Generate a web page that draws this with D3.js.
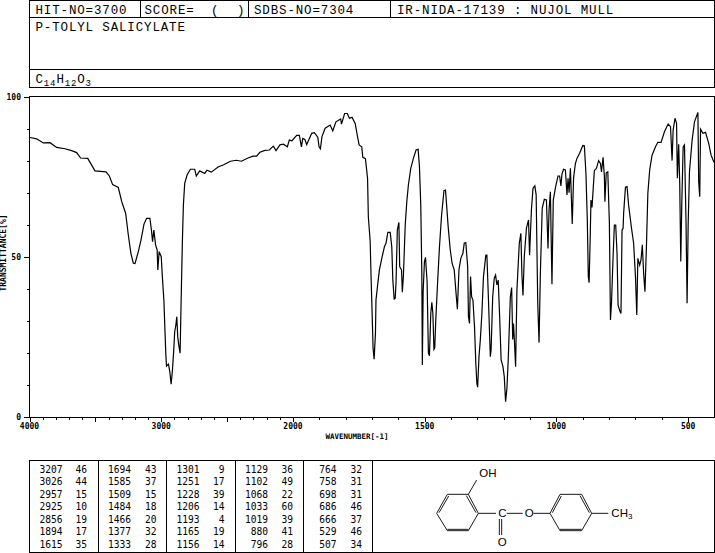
<!DOCTYPE html>
<html><head><meta charset="utf-8">
<script src="https://cdn.jsdelivr.net/npm/d3@7"></script>
<style>
html,body{margin:0;padding:0;background:#fff}
svg{display:block}
text{font-family:"DejaVu Sans Mono",monospace;fill:#000}
.head{font-family:"Liberation Mono",monospace;font-size:12.5px;letter-spacing:.85px}
.small{font-size:8px;font-weight:bold}
.tbl{font-size:9.6px}
.chem{font-family:"Liberation Sans",sans-serif;font-size:11.5px}
</style></head><body>
<script>
const wavenumbers=[3996,3946,3895,3844,3794,3731,3680,3642,3612,3558,3528,3503,3419,3394,3369,3326,3300,3270,3250,3230,3212,3199,3174,3154,3131,3111,3086,3073,3066,3056,3043,3031,3026,3016,3000,2990,2980,2973,2965,2960,2945,2935,2925,2915,2905,2898,2890,2882,2875,2865,2857,2850,2840,2832,2822,2804,2779,2746,2734,2708,2670,2653,2620,2569,2526,2475,2430,2392,2341,2303,2276,2251,2213,2180,2149,2129,2099,2073,2043,2028,2008,1986,1976,1968,1963,1955,1948,1929,1919,1906,1901,1896,1890,1878,1859,1849,1837,1819,1816,1804,1794,1786,1776,1764,1755,1749,1739,1735,1725,1717,1714,1707,1704,1700,1696,1692,1687,1685,1678,1672,1663,1653,1647,1640,1631,1625,1621,1616,1612,1609,1604,1598,1595,1588,1585,1581,1574,1568,1562,1553,1543,1533,1525,1520,1515,1511,1509,1506,1501,1497,1491,1486,1482,1477,1473,1469,1465,1462,1458,1451,1444,1436,1427,1421,1416,1411,1403,1396,1388,1380,1376,1370,1363,1355,1350,1344,1337,1334,1330,1326,1322,1317,1311,1306,1302,1299,1294,1289,1283,1277,1268,1264,1258,1251,1248,1242,1236,1231,1226,1221,1216,1210,1203,1198,1193,1188,1183,1175,1170,1166,1163,1159,1155,1150,1141,1135,1131,1127,1122,1114,1106,1102,1095,1089,1082,1077,1071,1066,1061,1054,1046,1038,1032,1028,1023,1017,1012,1003,994,988,983,979,973,966,960,956,952,947,940,935,928,922,912,900,894,888,883,879,876,872,869,865,856,848,840,833,829,823,818,816,811,805,799,795,791,785,780,775,770,766,760,755,751,747,745,738,732,726,715,707,700,695,691,684,679,674,669,664,658,653,646,637,624,615,603,590,576,567,561,557,550,544,541,536,532,528,524,519,514,508,504,500,495,485,476,463,460,456,453,444,434,422,413,402];
const transmittance=[87.2,86.8,85.5,85.6,84.1,83.7,83.1,82.5,80.8,80.7,78.6,76.8,76.5,75.2,72.5,71.6,67.2,63.5,56.8,51,48,47.9,51.6,55.2,60.2,62,62,57.8,54.7,58.3,53.7,52.1,45.9,51.6,50,42.7,36.5,28.2,19.3,15.9,16.5,14.1,10.2,14.7,20.9,26.6,28.4,31.3,25,21.9,19.9,34.4,54.2,66.1,72.9,75.5,77.3,77.3,75.2,76.8,76,77,76.4,78,78.7,79.8,80.1,79.8,80.8,81.4,81.4,82.6,83.2,83.3,84.5,83.1,84.9,85.1,84.3,86.4,86.2,87.9,87.9,84.3,86.9,86.6,85,88.5,88.7,87.3,84.3,83.7,87.5,90.1,91.1,89.3,92.1,93,91.4,94.7,94.7,93.2,93.5,91.6,87.5,84.9,84.3,81,80.6,74.5,62.5,54.7,44.8,33.4,21.4,18,26.1,36.5,41.7,45.9,49.5,53.1,54.2,57.6,57.6,53.1,42.7,36.8,37,41.7,58.3,60.7,46.9,45.9,38.9,43.8,59.9,67.2,72.4,77.6,80.7,83.3,83.5,78.1,66.1,44.8,16.2,39.1,48.5,49.8,42.2,19.9,19.1,32.3,35.8,32.3,21.1,21.5,30.3,42.2,53.1,63,70.6,70.8,65.1,59.4,52.1,47.9,45.9,37.5,33.6,45.9,49.5,51.1,54.2,54.4,46.9,31.3,29.2,43.8,37.5,36.5,28.2,16.7,10.5,9.3,18.8,24,32.3,43.8,50.5,50.5,36.5,18.8,20.9,37.5,43.3,44.3,41.2,42.7,32.3,17.8,15.7,12.6,4.8,8.9,17.8,37.5,40.4,24.2,29.2,23,15.7,39.6,54.2,57.3,44.3,37.9,50,58.9,61.5,50.5,64.6,71.3,72.1,69.3,35.5,23.2,44.8,65.1,67.9,67.7,52.6,64.6,70.3,41.4,67.7,71.9,75.2,75.2,72.1,75.8,77.3,77.1,69.3,74.5,70,77.6,60.2,74.5,79.1,80.7,82.3,84.7,84.6,76,62,43.8,41.9,55.2,67.7,65.4,76.9,77.6,80,79.1,76.5,81,75,67.2,76.2,76.5,60.4,30.3,35.5,50,59.9,59.9,51.1,34.9,33.2,32.3,58.3,58.9,63.5,71.7,71.9,66.1,58.9,54.2,43.8,31.8,49.5,47.4,49,53.7,44.8,39.1,54.2,69.8,77.1,81.7,84.3,85.7,85.7,89,91.4,90.6,80,89.5,93.2,91.6,74.5,85.1,72.9,48.5,67.2,84.3,84.9,60.4,35.5,59.9,76.5,86.4,92.1,95,73.4,68.7,89.8,88.5,88.8,85.4,81.7,79.5];
const xTickLabels=[4000,3000,2000,1500,1000,500];
const yTickLabels=[100,50,0];
const peakWavenumbers=[[3207,3026,2957,2925,2856,1894,1615],[1694,1585,1509,1484,1466,1377,1333],[1301,1251,1228,1206,1193,1165,1156],[1129,1102,1068,1033,1019,880,796],[764,758,698,686,666,529,507]];
const peakPercents=[[46,44,15,10,19,17,35],[43,37,15,18,20,32,28],[9,17,39,14,4,19,14],[36,49,22,60,39,41,28],[32,31,31,46,37,46,34]];

const svg=d3.select("body").append("svg").attr("width",715).attr("height",553);
const x=d3.scaleLinear().domain([4000,2000,400]).range([29.5,293,714.5]);
const y=d3.scaleLinear().domain([0,100]).range([417,96.5]);
const rule=(a,b,c,d)=>svg.append("line").attr("x1",a).attr("y1",b).attr("x2",c).attr("y2",d)
  .attr("stroke","#000").attr("stroke-width",1).attr("shape-rendering","crispEdges");
const box=(a,b,c,d)=>svg.append("rect").attr("x",a).attr("y",b).attr("width",c-a).attr("height",d-b)
  .attr("fill","none").attr("stroke","#000").attr("stroke-width",1).attr("shape-rendering","crispEdges");
const label=(t,a,b,cls,anchor)=>svg.append("text").attr("x",a).attr("y",b).attr("class",cls).attr("text-anchor",anchor||"start").text(t);

// header
box(29.5,0.5,714.5,87.5);
rule(29.5,17.5,714.5,17.5); rule(29.5,69.5,714.5,69.5);
[140.5,248.5,390.5].forEach(v=>rule(v,0.5,v,17.5));
label("HIT-NO=3700",35.5,13.5,"head");
label("SCORE=",144.5,13.5,"head");
label("(",211,13.5,"head"); label(")",237,13.5,"head");
label("SDBS-NO=7304",254,13.5,"head");
label("IR-NIDA-17139 : NUJOL MULL",397,13.5,"head");
label("P-TOLYL SALICYLATE",35.5,30.5,"head");
const f=svg.append("text").attr("x",35.5).attr("y",83).attr("class","head");
[["C",0],["14",3],["H",-3],["12",3],["O",-3],["3",3]].forEach(([t,dy],i)=>f.append("tspan").attr("dy",dy).attr("font-size",i%2?"9px":null).text(t));

// axes
box(29.5,96.5,714.5,417);
d3.range(0,101,10).forEach(v=>{const p=Math.round(y(v))+.5;rule(v%50?27:24,p,29.5,p);});
d3.range(400,4001,100).forEach(v=>{const p=Math.round(x(v))+.5;rule(p,417,p,417+(xTickLabels.includes(v)||v==2500||v==3500?5:3));});
yTickLabels.forEach(v=>label(v,21,y(v)+3,"small","end"));
xTickLabels.forEach(v=>label(v,x(v),428.5,"small","middle"));
label("WAVENUMBER[-1]",357,439,"small","middle").style("font-size","7.5px");
svg.append("text").attr("transform","translate(6,253) rotate(-90)").attr("class","small").attr("text-anchor","middle").text("TRANSMITTANCE[%]");

// spectrum
const line=d3.line().x(d=>x(d[0])).y(d=>y(d[1]));
svg.append("path").datum(d3.zip(wavenumbers,transmittance)).attr("d",line)
  .attr("fill","none").attr("stroke","#000").attr("stroke-width",1.2).attr("stroke-linejoin","miter");

// peak table
box(29.5,460.5,372.5,552.5); box(372.5,460.5,714.5,552.5);
[98.5,166.5,235.5,303.5].forEach(v=>rule(v,460.5,v,552.5));
const rowY=d3.scaleLinear().domain([0,6]).range([473,547.5]);
const wnRight=[62.5,131,199.5,268,336.5], pcRight=[87,156.5,224.5,293,362];
peakWavenumbers.forEach((col,c)=>col.forEach((v,r)=>{
  label(v,wnRight[c],rowY(r),"tbl","end");
  label(peakPercents[c][r],pcRight[c],rowY(r),"tbl","end");
}));

// structure
const bonds=[[200,340,232,283],[232,283,295,283],[295,283,325,340],[325,340,295,392],[295,392,232,392],[232,392,200,340],
[207,338,236,288],[289,287,318,338],[232,388,295,388],[295,283,320,240],[325,340,378,340],[410,340,458,340],[490,340,540,340],
[540,340,570,283],[570,283,635,283],[635,283,665,340],[665,340,635,392],[635,392,570,392],[570,392,540,340],
[547,338,574,288],[630,287,658,338],[570,388,635,388],[665,340,715,340],[388,357,388,405],[395,357,395,405]];
const sx=v=>370+v/3, sy=v=>400+v/3;
svg.append("g").selectAll("line").data(bonds).join("line")
  .attr("x1",d=>sx(d[0])).attr("y1",d=>sy(d[1])).attr("x2",d=>sx(d[2])).attr("y2",d=>sy(d[3]))
  .attr("stroke","#000").attr("stroke-width",.9);
label("OH",sx(328),sy(231),"chem");
label("C",sx(397),sy(351),"chem","middle");
label("O",sx(478),sy(351),"chem","middle");
label("O",sx(397),sy(437),"chem","middle");
const m=svg.append("text").attr("x",sx(724)).attr("y",sy(351)).attr("class","chem");
m.append("tspan").text("CH"); m.append("tspan").attr("dy",2).attr("font-size","8px").text("3");
</script></body></html>
